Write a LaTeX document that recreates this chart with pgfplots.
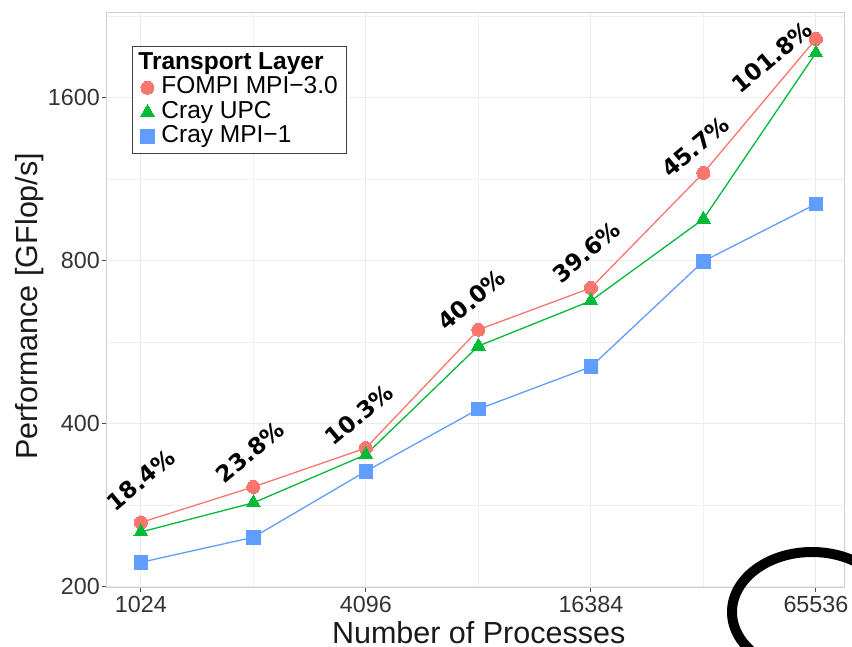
\documentclass[border=0pt]{standalone}
\usepackage{pgfplots}
\pgfplotsset{compat=1.18}
\usepackage{fontspec}
\setmainfont{Liberation Sans}
\newfontfamily\labfont{DejaVu Sans}
\definecolor{cR}{HTML}{F8766D}
\definecolor{cG}{HTML}{00BA38}
\definecolor{cB}{HTML}{619CFF}
\definecolor{gridc}{HTML}{EBEBEB}
\definecolor{framec}{HTML}{D0D0D0}
\begin{document}
\begin{tikzpicture}
\begin{axis}[
  scale only axis, width=738pt, height=575pt,
  xmode=log, ymode=log,
  xmin=826, xmax=77935,
  ymin=199.1, ymax=2296,
  xtick={1024,4096,16384,65536},
  xticklabels={1024,4096,16384,65536},
  minor xtick={2048,8192,32768},
  ytick={200,400,800,1600},
  yticklabels={200,400,800,1600},
  minor ytick={282.84,565.69,1131.37,2262.74},
  xtick pos=bottom, ytick pos=left,
  tick align=outside, major tick length=4pt, minor tick length=0pt,
  tick style={color=black!70, line width=1pt},
  grid=both,
  major grid style={gridc, line width=1pt},
  minor grid style={gridc!70, line width=0.8pt},
  axis line style={framec, line width=1pt},
  /pgf/number format/assume math mode=true,
  tick label style={font=\fontsize{23.3}{28}\selectfont, color=black!80},
  xticklabel style={inner sep=0pt, anchor=north, yshift=-4pt},
  yticklabel style={inner sep=0pt, anchor=east, xshift=-2pt},
  xlabel={Number of Processes},
  ylabel={Performance [GFlop/s]},
  every axis x label/.style={at={(axis description cs:0.505,-0.0957)}, anchor=base, font=\fontsize{30.5}{36}\selectfont, color=black!90},
  every axis y label/.style={at={(axis description cs:-0.103,0.49)}, anchor=center, rotate=90, font=\fontsize{30.5}{36}\selectfont, color=black!90},
  legend style={at={(axis description cs:0.0352,0.9426)}, anchor=north west,
    draw=black!75, line width=1pt, fill=white,
    font=\fontsize{24.5}{29}\selectfont,
    inner xsep=8pt, inner ysep=4.5pt, row sep=0pt,
    nodes={text height=17.5pt, text depth=5pt, inner sep=1pt},
    /tikz/every odd column/.append style={column sep=6pt}},
  legend cell align=left,
  legend image code/.code={\draw[mark repeat=2,mark phase=2,only marks] plot coordinates {(0pt,0pt)(7pt,0pt)(14pt,0pt)};},
]
\addlegendimage{empty legend}
\addlegendentry{\hspace*{-23pt}\textbf{Transport Layer}}
\addplot[color=cR, line width=1.3pt, mark=*, mark size=6.5pt, mark options={fill=cR, draw=cR, line width=0pt}]
  coordinates {(1024,263)(2048,306)(4096,361)(8192,597)(16384,713)(32768,1163)(65536,2056)};
\addlegendentry{FOMPI MPI−3.0}
\addplot[color=cG, line width=1.3pt, mark=triangle*, mark size=8pt, mark options={fill=cG, draw=cG, line width=0pt}]
  coordinates {(1024,252.6)(2048,286)(4096,351)(8192,557)(16384,675)(32768,956)(65536,1937)};
\addlegendentry{Cray UPC}
\addplot[color=cB, line width=1.3pt, mark=square*, mark size=6.8pt, mark options={fill=cB, draw=cB, line width=0pt}]
  coordinates {(1024,222)(2048,247)(4096,327)(8192,426)(16384,510)(32768,799)(65536,1019)};
\addlegendentry{Cray MPI−1}
\begin{scope}[every node/.style={rotate=40, font=\labfont\bfseries\fontsize{23}{27}\selectfont, anchor=center}]
\node at (axis cs:1024,315) {18.4\%};
\node at (axis cs:2006,355) {23.8\%};
\node at (axis cs:3930,416) {10.3\%};
\node at (axis cs:7860,678) {40.0\%};
\node at (axis cs:15940,831) {39.6\%};
\node at (axis cs:31200,1300) {45.7\%};
\node at (axis cs:50000,1905) {101.8\%};
\end{scope}
\end{axis}
\draw[line width=10pt] (706pt,-24pt) ellipse [x radius=80pt, y radius=60pt];
\pgfresetboundingbox
\useasboundingbox (-106pt,-58pt) rectangle (746pt,588pt);
\end{tikzpicture}
\end{document}
